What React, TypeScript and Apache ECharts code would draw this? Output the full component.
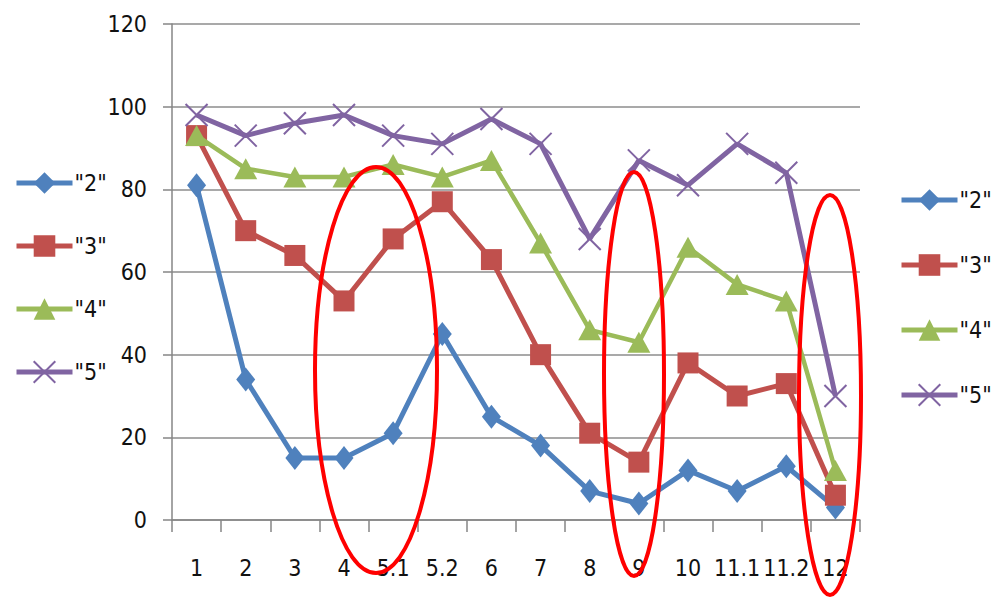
import React, { useEffect, useRef } from "react";
import * as echarts from "echarts";

const categories = ["1", "2", "3", "4", "5.1", "5.2", "6", "7", "8", "9", "10", "11.1", "11.2", "12"];
const seriesNames = ['"2"', '"3"', '"4"', '"5"'];
const s2 = [81, 34, 15, 15, 21, 45, 25, 18, 7, 4, 12, 7, 13, 3];
const s3 = [93, 70, 64, 53, 68, 77, 63, 40, 21, 14, 38, 30, 33, 6];
const s4 = [93, 85, 83, 83, 86, 83, 87, 67, 46, 43, 66, 57, 53, 12];
const s5 = [98, 93, 96, 98, 93, 91, 97, 91, 68, 87, 81, 91, 84, 30];
const yTicks = [0, 20, 40, 60, 80, 100, 120];

const colors = ["#4F81BD", "#C0504D", "#9BBB59", "#8064A2"];
const FONT = '"Liberation Sans Narrow", "DejaVu Sans Condensed", "Liberation Sans", sans-serif';
const FS = 23;
const X_PATH = "path://M0,0L10,10M10,0L0,10";

export default function App() {
  const ref = useRef<HTMLDivElement>(null);
  useEffect(() => {
    if (!ref.current) return;
    const chart = echarts.init(ref.current, undefined, { renderer: "svg" });
    const mk = (i: number, data: number[], symbol: string, size: any, width: number) => ({
      name: seriesNames[i],
      type: "line",
      data,
      symbol,
      symbolSize: size,
      color: colors[i],
      lineStyle: { color: colors[i], width },
      itemStyle:
        i === 3
          ? { color: colors[i], borderColor: colors[i], borderWidth: 2 }
          : { color: colors[i], borderWidth: 0 },
      z: 2 + i,
    });
    const legendBase = {
      orient: "vertical",
      padding: 0,
      itemWidth: 56,
      itemHeight: 27,
      itemGap: 33,
      lineStyle: { width: 5 },
      textStyle: { fontFamily: FONT, fontSize: FS, color: "#111", lineHeight: 30, padding: [0, 0, 0, -3] },
      data: seriesNames,
    };
    chart.setOption({
      animation: false,
      backgroundColor: "#ffffff",
      grid: { left: 172, right: 137, top: 24, bottom: 77, containLabel: false },
      legend: [
        { ...legendBase, left: 14, top: 168 },
        { ...legendBase, left: 899, top: 185, itemGap: 35 },
      ],
      xAxis: {
        type: "category",
        data: categories,
        boundaryGap: true,
        axisLine: { show: true, lineStyle: { color: "#868686", width: 1.5 } },
        axisTick: { show: true, length: 12, alignWithLabel: false, lineStyle: { color: "#868686", width: 1.5 } },
        axisLabel: { interval: 0, margin: 36, fontFamily: FONT, fontSize: FS, color: "#111" },
      },
      yAxis: {
        type: "value",
        min: yTicks[0],
        max: yTicks[yTicks.length - 1],
        interval: 20,
        axisLine: { show: true, lineStyle: { color: "#868686", width: 1.5 } },
        axisTick: { show: true, length: 9, lineStyle: { color: "#868686", width: 1.5 } },
        splitLine: { show: true, lineStyle: { color: "#8c8c8c", width: 1.5 } },
        axisLabel: { margin: 25, fontFamily: FONT, fontSize: FS, color: "#111" },
      },
      series: [
        mk(0, s2, "diamond", [19, 24], 5),
        mk(1, s3, "rect", 21, 5),
        mk(2, s4, "triangle", [23, 21], 4.5),
        mk(3, s5, X_PATH, 22, 5),
      ],
      graphic: [
        { type: "ellipse", shape: { cx: 376, cy: 370, rx: 61, ry: 203 }, style: { fill: "none", stroke: "#ff0000", lineWidth: 4 }, z: 100 },
        { type: "ellipse", shape: { cx: 634, cy: 374, rx: 30, ry: 202 }, style: { fill: "none", stroke: "#ff0000", lineWidth: 4 }, z: 100 },
        { type: "ellipse", shape: { cx: 830, cy: 395, rx: 31, ry: 200 }, style: { fill: "none", stroke: "#ff0000", lineWidth: 4 }, z: 100 },
      ],
    });
    return () => chart.dispose();
  }, []);
  return <div ref={ref} style={{ position: "fixed", left: 0, top: 0, width: 997, height: 597 }} />;
}
